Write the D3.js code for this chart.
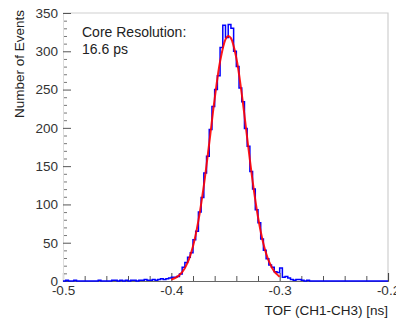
<!DOCTYPE html>
<html>
<head>
<meta charset="utf-8">
<script src="https://cdn.jsdelivr.net/npm/d3@7"></script>
<style>
	body { margin: 0; background: #fff; }
	svg { display: block; font-family: "Liberation Sans", Arial, sans-serif; }
	.tickLbl text { fill: #333; font-size: 13.5px; }
	.axisTitle { fill: #222; font-size: 13.5px; }
	.note { fill: #222; font-size: 14px; }
</style>
</head>
<body>
<div id="chartDiv"></div>
<script>
// histogram: bins of 0.0025 ns from -0.5 ns
const binStart = -0.5;
const binWidth = 0.0025;
const counts = [
	0, 1, 0, 0, 1, 0, 0, 0, 0, 0,
	0, 0, 0, 1, 0, 0, 0, 0, 1, 1,
	0, 1, 0, 1, 0, 1, 1, 0, 1, 1,
	2, 1, 1, 2, 1, 2, 3, 2, 3, 4,
	5, 5, 6, 9, 18, 24, 31, 37, 54, 65,
	90, 109, 141, 163, 198, 228, 250, 268, 305, 334,
	318, 335, 330, 300, 280, 252, 234, 199, 176, 143,
	120, 93, 76, 55, 40, 29, 21, 18, 12, 11,
	17, 5, 6, 4, 2, 1, 2, 2, 1, 0,
	1, 0, 0, 0, 0, 0, 0, 0, 0, 0,
	0, 0, 0, 0, 0, 0, 0, 0, 0, 0,
	0, 0, 0, 0, 0, 0, 0, 0, 0, 0
];

// gaussian fit curve
const fitX = [-0.400, -0.395, -0.390, -0.385, -0.380, -0.375, -0.370, -0.365, -0.360, -0.355, -0.350,
	-0.3475, -0.345, -0.340, -0.335, -0.330, -0.325, -0.320, -0.315, -0.310, -0.305, -0.300];
const fitY = [2.0, 5.1, 11.5, 24.0, 45.4, 78.8, 124.6, 180.1, 237.8, 286.6, 315.5,
	320, 317.2, 291.3, 244.3, 187.0, 130.9, 83.6, 48.7, 26.0, 12.6, 5.6];

const xMajor = [-0.5, -0.4, -0.3, -0.2];
const yMajor = [0, 50, 100, 150, 200, 250, 300, 350];
const noteLines = ["Core Resolution:", "16.6 ps"];

const width = 396, height = 320;
const margin = { top: 13, right: 8, bottom: 39, left: 63 };

let svg = d3.select('#chartDiv').append('svg')
	.attr('width', width)
	.attr('height', height);

let xScale = d3.scaleLinear().domain([-0.5, -0.2]).range([margin.left, width - margin.right]);
let yScale = d3.scaleLinear().domain([0, 350]).range([height - margin.bottom, margin.top]);

// frame (top & right are light)
svg.append('path')
	.attr('d', `M${xScale(-0.5)},${yScale(350)}H${xScale(-0.2)}V${yScale(0)}`)
	.attr('fill', 'none')
	.attr('stroke', '#cfcfcf')
	.attr('stroke-width', 1.2);

// minor ticks
let xMinor = d3.range(-0.5, -0.2001, 0.02).filter(v => !xMajor.some(m => Math.abs(m - v) < 1e-6));
let yMinor = d3.range(0, 351, 10).filter(v => v % 50 != 0);

svg.append('g')
	.attr('transform', `translate(0,${yScale(0)})`)
	.call(d3.axisBottom(xScale).tickValues(xMinor).tickSize(-5).tickFormat(''))
	.call(g => g.select('.domain').remove())
	.call(g => g.selectAll('line').attr('stroke', '#555'));

svg.append('g')
	.attr('transform', `translate(${xScale(-0.5)},0)`)
	.call(d3.axisLeft(yScale).tickValues(yMinor).tickSize(-4).tickFormat(''))
	.call(g => g.select('.domain').remove())
	.call(g => g.selectAll('line').attr('stroke', '#777'));

// major axes
let xAxisG = svg.append('g')
	.attr('class', 'tickLbl')
	.attr('transform', `translate(0,${yScale(0)})`)
	.call(d3.axisBottom(xScale).tickValues(xMajor).tickSize(-8).tickPadding(4).tickFormat(d3.format('.1f')));
xAxisG.select('.domain').attr('stroke', '#666').attr('stroke-width', 1.2);
xAxisG.selectAll('line').attr('stroke', '#444');
xAxisG.selectAll('text').attr('font-family', null).attr('font-size', null).text(d => d3.format('.1f')(d).replace('−', '-'));

let yAxisG = svg.append('g')
	.attr('class', 'tickLbl')
	.attr('transform', `translate(${xScale(-0.5)},0)`)
	.call(d3.axisLeft(yScale).tickValues(yMajor).tickSize(-8).tickPadding(5));
yAxisG.select('.domain').attr('stroke', '#dddddd');
yAxisG.selectAll('line').attr('stroke', '#555');
yAxisG.selectAll('text').attr('font-family', null).attr('font-size', null);

// histogram outline
let histPts = counts.map((c, i) => ({ x: binStart + i * binWidth, y: c }));
histPts.push({ x: binStart + counts.length * binWidth, y: counts[counts.length - 1] });

let histLine = d3.line()
	.x(d => xScale(d.x))
	.y(d => yScale(d.y))
	.curve(d3.curveStepAfter);

svg.append('path')
	.datum(histPts)
	.attr('d', histLine)
	.attr('fill', 'none')
	.attr('stroke', '#0000ff')
	.attr('stroke-width', 1.5);

// fit curve
let fitPts = fitX.map((x, i) => ({ x: x, y: fitY[i] }));
svg.append('path')
	.datum(fitPts)
	.attr('d', d3.line().x(d => xScale(d.x)).y(d => yScale(d.y)).curve(d3.curveCatmullRom))
	.attr('fill', 'none')
	.attr('stroke', '#ff0000')
	.attr('stroke-width', 2)
	.attr('stroke-opacity', 0.9);

// titles
svg.append('text')
	.attr('class', 'axisTitle')
	.attr('text-anchor', 'end')
	.attr('x', xScale(-0.2))
	.attr('y', 315)
	.text('TOF (CH1-CH3) [ns]');

svg.append('text')
	.attr('class', 'axisTitle')
	.attr('text-anchor', 'end')
	.attr('transform', 'translate(24,10) rotate(-90)')
	.text('Number of Events');

svg.selectAll('.note')
	.data(noteLines)
	.join('text')
	.attr('class', 'note')
	.attr('x', 82)
	.attr('y', (d, i) => 37 + i * 17)
	.text(d => d);
</script>
</body>
</html>
